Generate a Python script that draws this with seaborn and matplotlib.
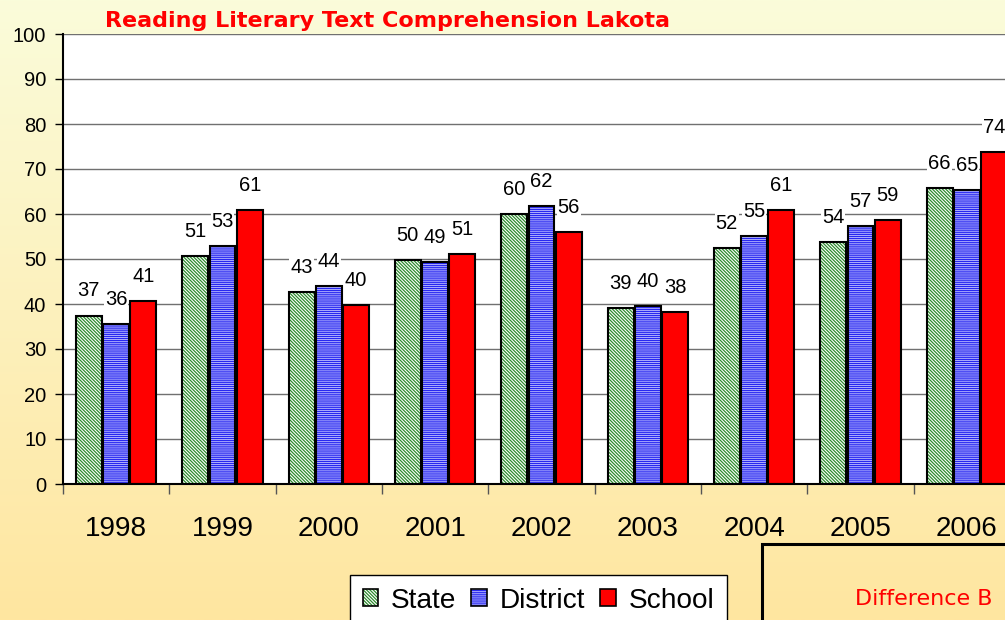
import numpy as np
import pandas as pd
import matplotlib.pyplot as plt
import seaborn as sns
from matplotlib.patches import Patch, Rectangle
from matplotlib.colors import to_rgb

sns.set_theme(style='white')
plt.rcParams['font.family'] = ['Liberation Sans', 'DejaVu Sans']
plt.rcParams['hatch.linewidth'] = 0.9
for key in ['text.color', 'xtick.color', 'ytick.color', 'axes.labelcolor']:
    plt.rcParams[key] = 'black'

years = ['1998', '1999', '2000', '2001', '2002', '2003', '2004', '2005', '2006']
state = [37.4, 50.7, 42.7, 49.8, 60.0, 39.1, 52.4, 53.8, 65.8]
district = [35.6, 52.9, 44.0, 49.3, 61.8, 39.6, 55.1, 57.3, 65.3]
school = [40.6, 60.9, 39.8, 51.1, 56.0, 38.2, 60.9, 58.7, 73.8]
groups = ['State', 'District', 'School']

df = pd.DataFrame({'Year': years, 'State': state, 'District': district, 'School': school})
df = df.melt(id_vars='Year', var_name='Group', value_name='Score')

# face colour, hatch colour, hatch pattern per group
styles = {
    'State': ('white', '#2e8b2e', '\\' * 10),
    'District': ('#c4c4ff', '#2828f0', '-' * 8),
    'School': ('#ff0000', '#ff0000', ''),
}

fig = plt.figure(figsize=(10.05, 6.2), dpi=100)

# page background gradient
top, bottom = np.array(to_rgb('#fafcda')), np.array(to_rgb('#ffe6a0'))
t = np.linspace(0, 1, 256)[:, None, None]
grad = top * (1 - t) + bottom * t
bg = fig.add_axes([0, 0, 1, 1], zorder=-10)
bg.imshow(grad, aspect='auto', extent=[0, 1, 0, 1])
bg.axis('off')

ax = fig.add_axes([63 / 1005, 1 - 484 / 620, 957 / 1005, 450 / 620])
ax.set_facecolor('white')

sns.barplot(data=df, x='Year', y='Score', hue='Group', hue_order=groups,
            palette=[styles[g][0] for g in groups], width=0.77, gap=0.05,
            errorbar=None, legend=False, ax=ax)

for cont, g in zip(ax.containers, groups):
    fc, hc, hatch = styles[g]
    for bar in cont:
        bar.set_facecolor(fc)
        bar.set_edgecolor(hc)
        bar.set_hatch(hatch)
        bar.set_linewidth(0)
        ax.add_patch(Rectangle(bar.get_xy(), bar.get_width(), bar.get_height(),
                               fill=False, ec='black', lw=1.5, zorder=bar.get_zorder() + 0.1))
    ax.bar_label(cont, labels=[f'{b.get_height():.0f}' for b in cont], padding=11,
                 fontsize=14.5, bbox=dict(fc='white', ec='none', pad=0.6), zorder=5)

ax.set_xlim(-0.5, 8.5)
ax.set_ylim(0, 100)
ax.set_yticks(range(0, 101, 10))
ax.set_axisbelow(True)
ax.yaxis.grid(True, color='#707070', lw=1)
ax.xaxis.grid(False)
ax.set_xlabel('')
ax.set_ylabel('')
ax.tick_params(axis='y', left=True, length=6, width=1, pad=6, labelsize=14.5)
ax.tick_params(axis='x', which='major', length=0, pad=23, labelsize=20)
ax.set_xticks(np.arange(-0.5, 9, 1), minor=True)
ax.tick_params(axis='x', which='minor', bottom=True, length=7, width=1, color='#555555')
for side in ['top', 'right']:
    ax.spines[side].set_visible(False)
for side in ['left', 'bottom']:
    ax.spines[side].set_color('black')
    ax.spines[side].set_linewidth(1.5)

handles = []
for g in groups:
    fc, hc, hatch = styles[g]
    handles.append((Patch(fc=fc, ec=hc, hatch=hatch, lw=0),
                    Patch(fill=False, ec='black', lw=1.2)))
fig.legend(handles, groups, loc='upper left', bbox_to_anchor=(350 / 1005, 1 - 575 / 620),
           ncol=3, fontsize=20.2, frameon=True, fancybox=False, edgecolor='black',
           facecolor='white', framealpha=1, handlelength=0.55, handleheight=0.55,
           handletextpad=0.45, columnspacing=0.55, borderpad=0.45, borderaxespad=0)

fig.text(105 / 1005, 1 - 27 / 620, 'Reading Literary Text Comprehension Lakota',
         color='#ff0000', fontsize=16, fontweight='bold', family='DejaVu Sans',
         va='baseline', ha='left')

fig.patches.append(Rectangle((762 / 1005, -0.1), 0.3, 1.1 - 544 / 620,
                             transform=fig.transFigure, fill=False, ec='black', lw=2.2))
fig.text(855 / 1005, 1 - 605 / 620, 'Difference B', color='#ff0000',
         fontsize=16, family='DejaVu Sans', va='baseline', ha='left')

fig.savefig('out.png', dpi=100)
